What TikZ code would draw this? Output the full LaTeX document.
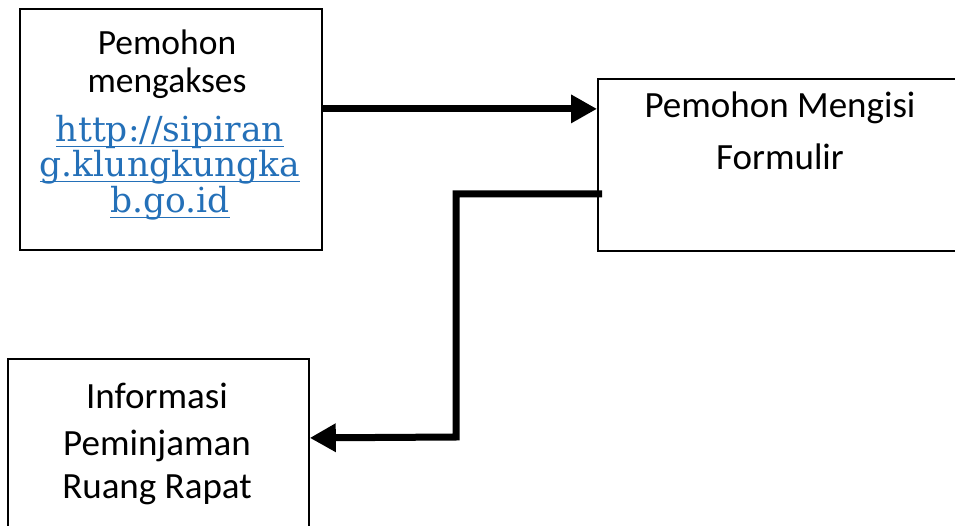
\documentclass[tikz,border=0pt]{standalone}
\usepackage{fontspec}
\setmainfont{Carlito}
\newfontfamily\urlfont{DejaVu Serif}
\usetikzlibrary{arrows.meta}
\definecolor{linkblue}{RGB}{36,112,184}
\newcommand\ulink[1]{\setbox0=\hbox{#1}\leavevmode\rlap{\copy0}\rule[-5.5pt]{\wd0}{1.8pt}}
\begin{document}
\begin{tikzpicture}[x=1pt,y=-1pt,
  box/.style={draw,line width=1.8pt,rectangle,inner sep=0pt,anchor=north west},
  flow/.style={line width=7pt,line join=miter,-{Triangle[length=26pt,width=27pt]}},
  txt/.style={font=\fontsize{37}{44}\selectfont,anchor=base,inner sep=0pt},
  smalltxt/.style={txt,font=\fontsize{35.5}{42}\selectfont},
  urltxt/.style={font=\urlfont\fontsize{34.5}{40}\selectfont,text=linkblue,anchor=base,inner sep=0pt}]
\useasboundingbox (0,0) rectangle (955,526);
% boxes
\node[box,minimum width=302pt,minimum height=241pt] (b1) at (19,8) {};
\node[box,minimum width=370pt,minimum height=172pt] (b2) at (597,78) {};
\node[box,minimum width=301pt,minimum height=172pt] (b3) at (7,358) {};
% box 1 text
\node[smalltxt] (t1a) at (167,55) {Pemohon};
\node[smalltxt] (t1b) at (167,93) {mengakses};
\node[urltxt] (u1) at (170,142) {\ulink{http://sipiran}};
\node[urltxt] (u2) at (170,177) {\ulink{g.klungkungka}};
\node[urltxt] (u3) at (170,213) {\ulink{b.go.id}};
% box 2 text
\node[txt] (t2a) at (780,118) {Pemohon Mengisi};
\node[txt] (t2b) at (780,170) {Formulir};
% box 3 text
\node[txt] (t3a) at (157,408) {Informasi};
\node[txt] (t3b) at (157,455) {Peminjaman};
\node[txt] (t3c) at (157,498) {Ruang Rapat};
% connectors
\draw[flow] ([yshift=20.5pt]b1.east) -- ([yshift=20.5pt]b1.east -| b2.west);
\coordinate (elbow) at (456,437);
\draw[flow] ([xshift=5pt,yshift=-29pt]b2.west) -| (elbow) -- ([yshift=7pt]b3.east);
\end{tikzpicture}
\end{document}
